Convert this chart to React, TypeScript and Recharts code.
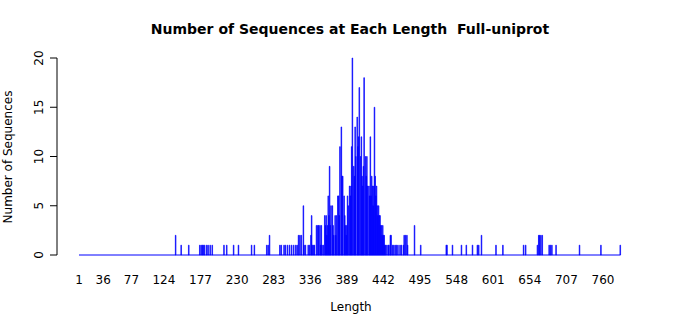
import { BarChart, Bar, XAxis, YAxis, ReferenceLine } from "recharts";

// lengths that have at least one sequence, and how many
const seqLengths = [
  141, 149, 160, 176, 178, 180, 181, 183, 186, 188, 191, 194, 211, 215, 225, 232,
  251, 255, 273, 275, 277, 292, 294, 298, 300, 303, 306, 309, 312, 315, 317, 319,
  321, 323, 326, 327, 329, 333, 335, 337, 338, 339, 341, 342, 345, 347, 348, 350,
  351, 352, 353, 355, 357, 358, 359, 360, 361, 362, 363, 364, 365, 366, 368, 369,
  370, 372, 373, 374, 376, 377, 378, 379, 381, 382, 383, 385, 386, 387, 388, 389,
  390, 391, 393, 394, 395, 396, 397, 399, 400, 401, 402, 404, 405, 406, 407, 409,
  410, 411, 412, 413, 414, 416, 417, 418, 419, 421, 422, 423, 424, 425, 426, 427,
  428, 429, 430, 431, 432, 433, 434, 435, 436, 437, 438, 439, 440, 441, 442, 443,
  444, 445, 447, 449, 450, 452, 453, 455, 457, 459, 461, 463, 466, 468, 471, 472,
  474, 476, 477, 487, 496, 533, 534, 542, 555, 562, 571, 578, 580, 584, 605, 615,
  645, 648, 665, 667, 668, 670, 672, 682, 684, 686, 692, 726, 757, 785,
];
const seqCounts = [
  2, 1, 1, 1, 1, 1, 1, 1, 1, 1, 1, 1, 1, 1, 1, 1,
  1, 1, 1, 1, 2, 1, 1, 1, 1, 1, 1, 1, 1, 1, 1, 2,
  2, 2, 5, 1, 1, 1, 1, 2, 4, 1, 1, 1, 3, 3, 3, 3,
  1, 3, 1, 1, 4, 3, 4, 2, 3, 6, 4, 9, 3, 5, 5, 3,
  2, 4, 2, 4, 6, 6, 4, 11, 13, 8, 8, 6, 4, 3, 2, 3,
  6, 5, 7, 6, 7, 11, 20, 9, 8, 13, 10, 14, 11, 12, 17, 10,
  12, 8, 7, 9, 18, 10, 8, 10, 7, 7, 6, 12, 6, 8, 7, 5,
  7, 15, 8, 6, 7, 5, 4, 5, 4, 4, 3, 3, 2, 3, 2, 2,
  1, 1, 1, 1, 1, 2, 2, 1, 1, 1, 1, 1, 1, 1, 1, 2,
  2, 2, 1, 3, 1, 1, 1, 1, 1, 1, 1, 1, 1, 2, 1, 1,
  1, 1, 1, 2, 2, 2, 2, 1, 1, 1, 1, 1, 1, 1,
];
const firstLength = 1;
const lastLength = 785;
const xTickLabels = [1, 36, 77, 124, 177, 230, 283, 336, 389, 442, 495, 548, 601, 654, 707, 760];
const yTicks = [0, 5, 10, 15, 20];

const countByLength = new Map(seqLengths.map((len, i) => [len, seqCounts[i]]));
const data = Array.from({ length: lastLength - firstLength + 1 }, (_, i) => {
  const len = firstLength + i;
  return { len, count: countByLength.get(len) ?? 0 };
});

const font = "'DejaVu Sans', sans-serif";

const XTick = (props: any) => {
  const value = props.payload?.value;
  if (!xTickLabels.includes(value)) return <g />;
  return (
    <text x={props.x} y={284} textAnchor="middle" fontSize={12} fontFamily={font} fill="#000">
      {value}
    </text>
  );
};

const YTick = (props: any) => (
  <text
    x={43}
    y={props.y}
    textAnchor="middle"
    fontSize={12}
    fontFamily={font}
    fill="#000"
    transform={`rotate(-90, 43, ${props.y})`}
  >
    {props.payload?.value}
  </text>
);

export default function App() {
  return (
    <div style={{ position: "relative", width: 700, height: 315, background: "#fff" }}>
      <style>{`body { margin: 0; }`}</style>
      <BarChart
        width={700}
        height={315}
        data={data}
        margin={{ top: 58, right: 79.4, bottom: 30, left: 0 }}
        barCategoryGap={0}
        barGap={0}
      >
        <XAxis
          dataKey="len"
          interval={0}
          height={30}
          padding={{ left: 21.65, right: 0 }}
          axisLine={false}
          tickLine={false}
          tick={XTick}
        />
        <YAxis
          type="number"
          domain={[0, 20]}
          ticks={yTicks}
          width={57}
          tickSize={7}
          axisLine={{ stroke: "#000" }}
          tickLine={{ stroke: "#000" }}
          tick={YTick}
        />
        <ReferenceLine
          segment={[
            { x: firstLength, y: 0 },
            { x: lastLength, y: 0 },
          ]}
          stroke="#0000ff"
        />
        <Bar
          dataKey="count"
          fill="#0000ff"
          stroke="#0000ff"
          strokeWidth={0.6}
          isAnimationActive={false}
        />
      </BarChart>
      <svg
        width={700}
        height={315}
        style={{ position: "absolute", left: 0, top: 0, pointerEvents: "none" }}
      >
        <text
          x={350}
          y={34}
          textAnchor="middle"
          fontSize={14}
          fontWeight="bold"
          fontFamily={font}
          style={{ whiteSpace: "pre" }}
        >
          {"Number of Sequences at Each Length  Full-uniprot"}
        </text>
        <text x={351} y={311} textAnchor="middle" fontSize={12} fontFamily={font}>
          Length
        </text>
        <text
          x={12}
          y={157}
          textAnchor="middle"
          fontSize={12}
          fontFamily={font}
          transform="rotate(-90, 12, 157)"
        >
          Number of Sequences
        </text>
      </svg>
    </div>
  );
}
